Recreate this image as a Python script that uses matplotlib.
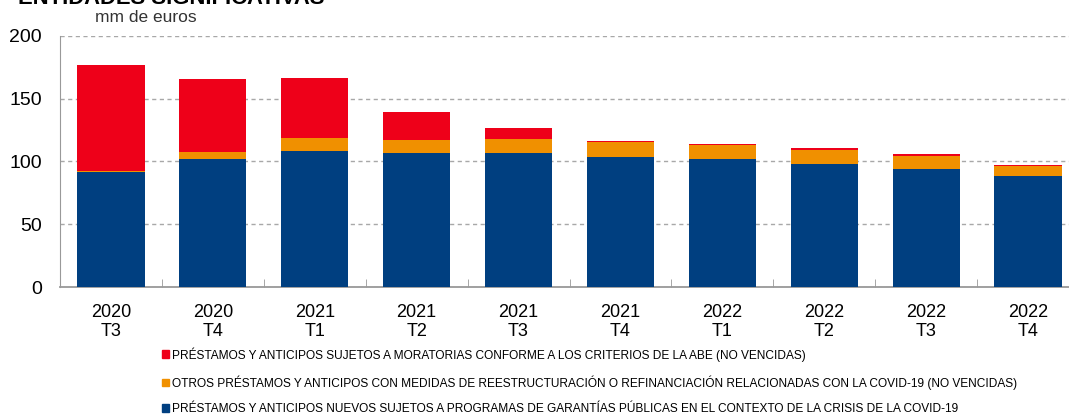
import numpy as np
import matplotlib
matplotlib.use("Agg")
import matplotlib.pyplot as plt
from matplotlib.patches import Patch
from matplotlib import font_manager

plt.rcParams['font.family'] = ['Liberation Sans', 'DejaVu Sans']

# data (mm de euros)
periods = ["2020\nT3", "2020\nT4", "2021\nT1", "2021\nT2", "2021\nT3",
           "2021\nT4", "2022\nT1", "2022\nT2", "2022\nT3", "2022\nT4"]
garantias = [91.8, 102.0, 108.6, 106.5, 106.5, 103.6, 102.0, 98.3, 93.8, 88.4]
reestructuradas = [0.8, 5.3, 9.9, 10.6, 11.1, 11.9, 11.4, 11.1, 10.8, 8.0]
moratorias = [84.3, 58.2, 47.8, 22.1, 9.3, 0.8, 0.8, 1.1, 1.4, 0.8]

labels = [
    "PRÉSTAMOS Y ANTICIPOS SUJETOS A MORATORIAS CONFORME A LOS CRITERIOS DE LA ABE (NO VENCIDAS)",
    "OTROS PRÉSTAMOS Y ANTICIPOS CON MEDIDAS DE REESTRUCTURACIÓN O REFINANCIACIÓN RELACIONADAS CON LA COVID-19 (NO VENCIDAS)",
    "PRÉSTAMOS Y ANTICIPOS NUEVOS SUJETOS A PROGRAMAS DE GARANTÍAS PÚBLICAS EN EL CONTEXTO DE LA CRISIS DE LA COVID-19",
]
c_red = "#EE0019"
c_orange = "#F09000"
c_blue = "#003F80"

# narrow font for the legend if there is one
names = {f.name for f in font_manager.fontManager.ttflist}
if "Liberation Sans Narrow" in names:
    leg_font = {"family": "Liberation Sans Narrow", "size": 10.5}
else:
    leg_font = {"family": "Liberation Sans", "size": 8.6}

W, H = 1069, 419
fig = plt.figure(figsize=(W / 100, H / 100), dpi=100)
ax = fig.add_axes([60 / W, (H - 287) / H, (1079 - 60) / W, (287 - 36) / H])

x = np.arange(len(periods))
g = np.array(garantias)
r = np.array(reestructuradas)
m = np.array(moratorias)
bw = 0.66
ax.bar(x, g, bw, color=c_blue, zorder=3)
ax.bar(x, r, bw, bottom=g, color=c_orange, zorder=3)
ax.bar(x, m, bw, bottom=g + r, color=c_red, zorder=3)

ax.set_xlim(-0.5, len(periods) - 0.5)
ax.set_ylim(0, 200)
ax.set_yticks([0, 50, 100, 150, 200])
ax.tick_params(axis='y', length=0, labelsize=14, pad=13)
ax.yaxis.grid(True, linestyle=(0, (3, 2.5)), color="#a8a8a8", linewidth=1)
ax.set_xticks(x)
ax.set_xticklabels(periods, fontsize=13, linespacing=1.15)
ax.tick_params(axis='x', length=0, pad=12)
ax.set_xticks(np.arange(0.5, len(periods) - 0.5, 1), minor=True)
ax.tick_params(axis='x', which='minor', direction='in', length=6, color="#999999")
for s in ["top", "right"]:
    ax.spines[s].set_visible(False)
ax.spines["left"].set_color("#999999")
ax.spines["bottom"].set_color("#999999")
ax.spines["bottom"].set_linewidth(1.3)

fig.text(95 / W, 1 - 18 / H, "mm de euros", fontsize=12.5, va="center", color="#333333")
fig.text(18 / W, 1 - 4 / H, "ENTIDADES SIGNIFICATIVAS", fontsize=15.8, fontweight="bold",
         va="baseline")

handles = [Patch(color=c_red), Patch(color=c_orange), Patch(color=c_blue)]
fig.legend(handles, labels, loc="upper left", bbox_to_anchor=(162 / W, 1 - 347 / H),
           frameon=False, prop=leg_font, handlelength=0.6, handleheight=0.6,
           handletextpad=0.2, labelspacing=1.15, borderpad=0, borderaxespad=0)

fig.savefig("out.png", dpi=100)
